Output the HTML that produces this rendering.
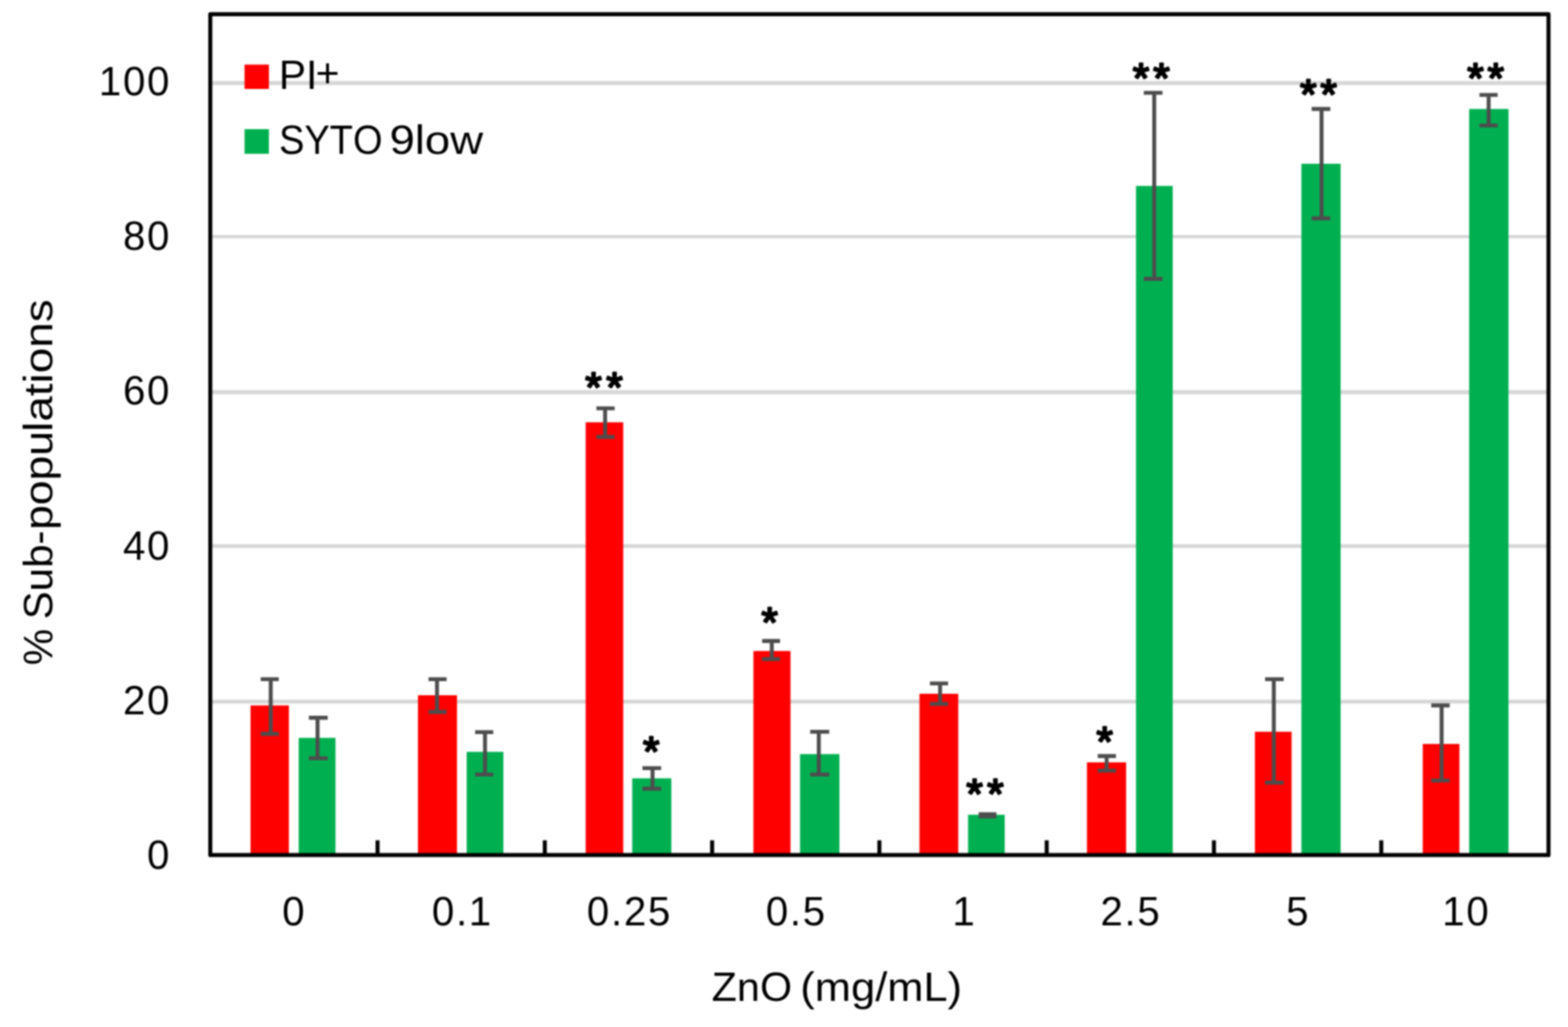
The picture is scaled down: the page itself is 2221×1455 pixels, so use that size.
<!DOCTYPE html>
<html lang="en">
<head>
<meta charset="utf-8">
<title>PI+ and SYTO 9low sub-populations vs ZnO (mg/mL)</title>
<style>
html,body{margin:0;padding:0;background:#fff}
#chart{width:2221px;height:1455px;overflow:hidden;background:#fff}
#chart svg{display:block;filter:blur(0.80px)}
</style>
</head>
<body>
<div id="chart">
<svg width="2221" height="1455" viewBox="0 0 2221 1455" role="img" aria-label="Bar chart: % sub-populations (PI+ and SYTO 9low) versus ZnO concentration">
<rect width="2221" height="1455" fill="#fff"/>
<g stroke="#d6d6d6">
<line x1="297.9" y1="117.65" x2="2193.4" y2="117.65" stroke-width="5.6"/>
<line x1="297.9" y1="335.30" x2="2193.4" y2="335.30" stroke-width="4.6"/>
<line x1="297.9" y1="555.60" x2="2193.4" y2="555.60" stroke-width="5.6"/>
<line x1="297.9" y1="773.70" x2="2193.4" y2="773.70" stroke-width="5.2"/>
<line x1="297.9" y1="994.00" x2="2193.4" y2="994.00" stroke-width="5.6"/>
</g>
<rect x="354.9" y="999.4" width="54.3" height="212.0" fill="#ff0000"/>
<rect x="423.1" y="1045.4" width="52.1" height="166.0" fill="#00b050"/>
<rect x="592.0" y="985.0" width="55.3" height="226.4" fill="#ff0000"/>
<rect x="661.0" y="1065.2" width="52.0" height="146.2" fill="#00b050"/>
<rect x="829.6" y="598.3" width="53.2" height="613.1" fill="#ff0000"/>
<rect x="895.5" y="1102.7" width="55.4" height="108.7" fill="#00b050"/>
<rect x="1067.2" y="922.3" width="52.5" height="289.1" fill="#ff0000"/>
<rect x="1133.2" y="1068.4" width="55.8" height="143.0" fill="#00b050"/>
<rect x="1302.4" y="982.9" width="54.9" height="228.5" fill="#ff0000"/>
<rect x="1371.2" y="1154.3" width="51.9" height="57.1" fill="#00b050"/>
<rect x="1539.6" y="1080.1" width="55.5" height="131.3" fill="#ff0000"/>
<rect x="1609.1" y="263.4" width="52.0" height="948.0" fill="#00b050"/>
<rect x="1777.5" y="1036.7" width="52.0" height="174.7" fill="#ff0000"/>
<rect x="1843.4" y="232.0" width="55.5" height="979.4" fill="#00b050"/>
<rect x="2015.3" y="1054.0" width="51.9" height="157.4" fill="#ff0000"/>
<rect x="2081.0" y="154.4" width="55.7" height="1057.0" fill="#00b050"/>
<g stroke="#4d4d4d" stroke-width="5.6" fill="none">
<path d="M369.3 962.3H394.8M369.3 1039.6H394.8M383.5 962.3V1039.6"/>
<path d="M437.5 1016.9H464.2M437.5 1074.2H464.2M449.8 1016.9V1074.2"/>
<path d="M607.0 962.3H632.6M607.0 1008.6H632.6M619.0 962.3V1008.6"/>
<path d="M673.0 1037.3H698.7M673.0 1097.2H698.7M687.0 1037.3V1097.2"/>
<path d="M844.8 578.5H870.6M844.8 619.0H870.6M857.1 578.5V619.0"/>
<path d="M910.0 1088.3H936.5M910.0 1117.4H936.5M924.3 1088.3V1117.4"/>
<path d="M1079.5 908.1H1104.9M1079.5 933.8H1104.9M1093.2 908.1V933.8"/>
<path d="M1147.6 1036.8H1174.6M1147.6 1097.2H1174.6M1159.8 1036.8V1097.2"/>
<path d="M1317.2 968.3H1342.9M1317.2 997.3H1342.9M1331.6 968.3V997.3"/>
<path d="M1386.2 1153.6H1411.4M1386.2 1156.8H1411.4M1398.8 1153.6V1156.8"/>
<path d="M1554.9 1071.1H1580.7M1554.9 1091.8H1580.7M1567.5 1071.1V1091.8"/>
<path d="M1620.1 131.5H1646.6M1620.1 395.1H1646.6M1634.9 131.5V395.1"/>
<path d="M1791.9 962.3H1818.3M1791.9 1108.8H1818.3M1804.3 962.3V1108.8"/>
<path d="M1857.9 154.4H1884.3M1857.9 309.4H1884.3M1871.9 154.4V309.4"/>
<path d="M2027.3 999.4H2053.4M2027.3 1105.7H2053.4M2042.0 999.4V1105.7"/>
<path d="M2095.6 134.5H2121.4M2095.6 177.8H2121.4M2108.6 134.5V177.8"/>
</g>
<g stroke="#000" stroke-width="5.7" fill="none">
<rect x="297.85" y="20.10" width="1895.55" height="1191.30" stroke-linejoin="round"/>
<line x1="534.8" y1="1190.5" x2="534.8" y2="1211.4"/>
<line x1="771.7" y1="1190.5" x2="771.7" y2="1211.4"/>
<line x1="1008.7" y1="1190.5" x2="1008.7" y2="1211.4"/>
<line x1="1245.6" y1="1190.5" x2="1245.6" y2="1211.4"/>
<line x1="1482.6" y1="1190.5" x2="1482.6" y2="1211.4"/>
<line x1="1719.5" y1="1190.5" x2="1719.5" y2="1211.4"/>
<line x1="1956.5" y1="1190.5" x2="1956.5" y2="1211.4"/>
</g>
<rect x="346.4" y="91.5" width="34.5" height="34.5" fill="#ff0000"/>
<rect x="346.4" y="183.0" width="34.5" height="34.9" fill="#00b050"/>
<g fill="#000" stroke="none" font-family="'Liberation Sans', sans-serif" style="font-kerning:none">
<text y="126.00" style="font-size:58.00px"><tspan x="395.07" textLength="54.44" lengthAdjust="spacingAndGlyphs">PI</tspan><tspan x="447.08" dy="-3.4" textLength="33.87" lengthAdjust="spacingAndGlyphs">+</tspan></text>
<text y="217.50" style="font-size:58.00px"><tspan x="395.25" textLength="146.62" lengthAdjust="spacingAndGlyphs">SYTO</tspan> <tspan x="551.68" textLength="132.67" lengthAdjust="spacingAndGlyphs">9low</tspan></text>
<text x="140.12 174.23 208.33" y="134.90" style="font-size:57.00px">100</text>
<text x="174.23 208.33" y="354.17" style="font-size:57.00px">80</text>
<text x="174.23 208.33" y="573.44" style="font-size:57.00px">60</text>
<text x="174.23 208.33" y="792.71" style="font-size:57.00px">40</text>
<text x="174.23 208.33" y="1011.98" style="font-size:57.00px">20</text>
<text x="208.33" y="1231.25" style="font-size:57.00px">0</text>
<text x="399.80" y="1311.00" style="font-size:57.00px">0</text>
<text x="611.78 645.88 664.12" y="1311.00" style="font-size:57.00px">0.1</text>
<text x="831.36 865.46 883.70 917.80" y="1311.00" style="font-size:57.00px">0.25</text>
<text x="1084.76 1118.87 1137.10" y="1311.00" style="font-size:57.00px">0.5</text>
<text x="1349.12" y="1311.00" style="font-size:57.00px">1</text>
<text x="1558.74 1592.85 1611.08" y="1311.00" style="font-size:57.00px">2.5</text>
<text x="1821.86" y="1311.00" style="font-size:57.00px">5</text>
<text x="2042.82 2076.92" y="1311.00" style="font-size:57.00px">10</text>
<text y="1417.50" style="font-size:58.00px"><tspan x="1008.14" textLength="113.76" lengthAdjust="spacingAndGlyphs">ZnO</tspan> <tspan x="1133.58" textLength="229.24" lengthAdjust="spacingAndGlyphs">(mg/mL)</tspan></text>
<g transform="translate(74.4 939.8) rotate(-90)"><text y="0.00" style="font-size:58.00px"><tspan x="-2.59" textLength="51.57" lengthAdjust="spacingAndGlyphs">%</tspan> <tspan x="62.29" textLength="125.96" lengthAdjust="spacingAndGlyphs">Sub-</tspan><tspan x="188.94" textLength="140.25" lengthAdjust="spacingAndGlyphs">popu</tspan><tspan x="328.03" textLength="187.62" lengthAdjust="spacingAndGlyphs">lations</tspan></text></g>
<g stroke="#000" stroke-width="2.9" stroke-linejoin="round" style="font-size:60.0px">
<text x="828.91 858.71" y="569.30">**</text>
<text x="910.81" y="1085.05">*</text>
<text x="1078.56" y="901.55">*</text>
<text x="1368.81 1398.21" y="1145.45">**</text>
<text x="1553.06" y="1070.90">*</text>
<text x="1604.51 1633.41" y="131.10">**</text>
<text x="1841.61 1870.31" y="154.10">**</text>
<text x="2078.21 2107.11" y="130.70">**</text>
</g>
</g>
</svg>
</div>
</body>
</html>
